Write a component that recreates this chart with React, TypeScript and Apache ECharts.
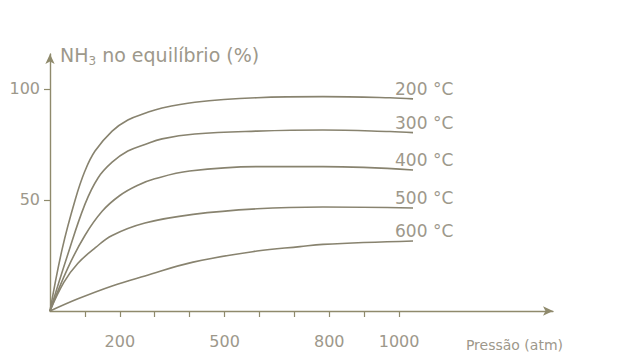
import React, { useEffect, useRef } from "react";
import * as echarts from "echarts";

// Temperatures (labels at the end of each curve)
const temperatures = ["200", "300", "400", "500", "600"];

// Pressure (atm) / NH3 at equilibrium (%)
const p200 = [0, 35, 72, 100, 129, 178, 223, 272, 321, 415, 593, 782, 974, 1040];
const v200 = [0, 28, 50, 63, 72, 81, 86, 89, 91.4, 94, 96, 96.5, 96, 95.5];

const p300 = [0, 50, 100, 138, 178, 223, 272, 321, 415, 593, 782, 974, 1040];
const v300 = [0, 25, 48, 60, 67, 72, 75, 77.5, 79.7, 81, 81.5, 80.8, 80.3];

const p400 = [0, 50, 100, 150, 200, 250, 300, 400, 593, 782, 1040];
const v400 = [0, 19, 34, 45, 52, 56.5, 59.5, 63, 65, 65, 63.5];

const p500 = [0, 40, 80, 130, 178, 272, 410, 593, 782, 1040];
const v500 = [0, 13, 21.5, 28.5, 34, 39.6, 43.5, 46, 46.8, 46.4];

const p600 = [0, 80, 178, 272, 410, 593, 716, 782, 1040];
const v600 = [0, 5.5, 11.3, 15.8, 22, 27, 29, 30, 31.5];

const pressures = [p200, p300, p400, p500, p600];
const values = [v200, v300, v400, v500, v600];

const xTicks = [100, 200, 300, 400, 500, 600, 700, 800, 900, 1000];
const xLabels = [200, 500, 800, 1000];
const yLabels = [50, 100];

const TEXT = "#9d988b";
const LINE = "#88836f";
const AXIS = "#8f8a6c";
const FONT = "DejaVu Sans";

export default function App() {
  const ref = useRef<HTMLDivElement>(null);

  useEffect(() => {
    if (!ref.current) return;
    const chart = echarts.init(ref.current, null, { renderer: "svg" });

    const series = temperatures.map((t, i) => ({
      type: "line",
      name: t + " °C",
      data: pressures[i].map((p, j) => [p, values[i][j]]),
      smooth: 0.4,
      showSymbol: false,
      symbol: "none",
      lineStyle: { color: LINE, width: 1.6 },
      endLabel: {
        show: true,
        formatter: t + " °C",
        color: TEXT,
        fontFamily: FONT,
        fontSize: 17,
        offset: [-26, -10],
      },
      emphasis: { disabled: true },
    }));

    chart.setOption({
      animation: false,
      backgroundColor: "#ffffff",
      grid: { left: 50, right: 74, top: 54, bottom: 52 },
      xAxis: {
        type: "value",
        min: 0,
        max: 1441,
        name: "Pressão (atm)",
        nameLocation: "end",
        nameGap: 10,
        nameTextStyle: {
          color: TEXT,
          fontFamily: FONT,
          fontSize: 14,
          align: "right",
          verticalAlign: "top",
          padding: [27, 0, 0, 0],
        },
        axisLine: {
          show: true,
          lineStyle: { color: AXIS, width: 1.4 },
          symbol: ["none", "arrow"],
          symbolSize: [7, 10],
        },
        axisTick: {
          show: true,
          customValues: xTicks,
          length: 6,
          lineStyle: { color: AXIS, width: 1.2 },
        },
        axisLabel: {
          customValues: xLabels,
          formatter: (v: number) => String(v),
          color: TEXT,
          fontFamily: FONT,
          fontSize: 16,
          margin: 22,
        },
        splitLine: { show: false },
      },
      yAxis: {
        type: "value",
        min: 0,
        max: 115.7,
        name: "{a|NH}{s|3}{a| no equilíbrio (%)}",
        nameLocation: "end",
        nameGap: -1,
        nameTextStyle: {
          align: "left",
          verticalAlign: "middle",
          padding: [0, 0, 0, 10],
          rich: {
            a: { color: TEXT, fontFamily: FONT, fontSize: 19, lineHeight: 24 },
            s: {
              color: TEXT,
              fontFamily: FONT,
              fontSize: 12,
              lineHeight: 13,
              verticalAlign: "bottom",
            },
          },
        },
        axisLine: {
          show: true,
          lineStyle: { color: AXIS, width: 1.4 },
          symbol: ["none", "arrow"],
          symbolSize: [7, 10],
        },
        axisTick: {
          show: true,
          customValues: yLabels,
          length: 6,
          lineStyle: { color: AXIS, width: 1.2 },
        },
        axisLabel: {
          customValues: yLabels,
          formatter: (v: number) => String(v),
          color: TEXT,
          fontFamily: FONT,
          fontSize: 16,
          margin: 10,
        },
        splitLine: { show: false },
      },
      series,
    });

    return () => chart.dispose();
  }, []);

  return (
    <div
      ref={ref}
      style={{ position: "absolute", left: 0, top: 0, width: 627, height: 363 }}
    />
  );
}
